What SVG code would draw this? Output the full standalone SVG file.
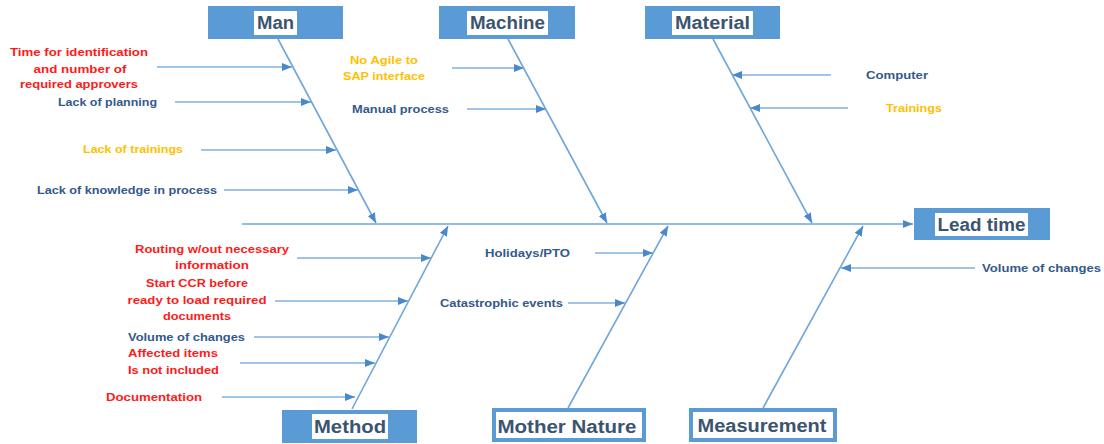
<svg xmlns="http://www.w3.org/2000/svg" width="1104" height="444" viewBox="0 0 1104 444">
<style>
.bone{stroke:#6FA6DA;stroke-width:1.6;fill:none}
.cause{stroke:#7FB0DE;stroke-width:1.4;fill:none}
.boxf{fill:#5B9BD5}
.boxo{fill:#fff;stroke:#5B9BD5;stroke-width:4}
.patch{fill:#fff}
.lbl{font-family:"Liberation Sans",Arial,sans-serif;font-weight:bold;font-size:18px;fill:#3B5470}
.t{font-family:"Liberation Sans",Arial,sans-serif;font-weight:bold;font-size:11.5px}
.blue{fill:#34598A}
.red{fill:#FF1A1A}
.gold{fill:#FFC000}
</style>
<defs>
<marker id="ah" viewBox="0 0 10 8" refX="10" refY="4" markerWidth="10" markerHeight="8" markerUnits="userSpaceOnUse" orient="auto">
<path d="M0,0 L10,4 L0,8 z" fill="#4A88CC"/>
</marker>
</defs>
<rect width="1104" height="444" fill="#fff"/>
<g id="connectors">
<line class="bone" x1="242" y1="224" x2="913" y2="224" marker-end="url(#ah)"/>
<line class="bone" x1="278" y1="39" x2="376" y2="223" marker-end="url(#ah)"/>
<line class="bone" x1="508" y1="39" x2="607" y2="223" marker-end="url(#ah)"/>
<line class="bone" x1="713" y1="39" x2="812" y2="223" marker-end="url(#ah)"/>
<line class="bone" x1="352" y1="409" x2="448" y2="226" marker-end="url(#ah)"/>
<line class="bone" x1="568" y1="408" x2="668" y2="226" marker-end="url(#ah)"/>
<line class="bone" x1="763" y1="408" x2="863" y2="226" marker-end="url(#ah)"/>
<line class="cause" x1="157" y1="67" x2="292" y2="67" marker-end="url(#ah)"/>
<line class="cause" x1="175" y1="102" x2="311" y2="102" marker-end="url(#ah)"/>
<line class="cause" x1="201" y1="150" x2="336" y2="150" marker-end="url(#ah)"/>
<line class="cause" x1="224" y1="190" x2="358" y2="190" marker-end="url(#ah)"/>
<line class="cause" x1="452" y1="68" x2="524" y2="68" marker-end="url(#ah)"/>
<line class="cause" x1="467" y1="109" x2="546" y2="109" marker-end="url(#ah)"/>
<line class="cause" x1="831" y1="75" x2="732" y2="75" marker-end="url(#ah)"/>
<line class="cause" x1="848" y1="108" x2="750" y2="108" marker-end="url(#ah)"/>
<line class="cause" x1="297" y1="258" x2="431" y2="258" marker-end="url(#ah)"/>
<line class="cause" x1="275" y1="301" x2="408" y2="301" marker-end="url(#ah)"/>
<line class="cause" x1="254" y1="337" x2="389" y2="337" marker-end="url(#ah)"/>
<line class="cause" x1="240" y1="363" x2="375" y2="363" marker-end="url(#ah)"/>
<line class="cause" x1="222" y1="397" x2="355" y2="397" marker-end="url(#ah)"/>
<line class="cause" x1="595" y1="253" x2="653" y2="253" marker-end="url(#ah)"/>
<line class="cause" x1="568" y1="303" x2="625" y2="303" marker-end="url(#ah)"/>
<line class="cause" x1="975" y1="268" x2="841" y2="268" marker-end="url(#ah)"/>
</g>
<g id="man">
<rect class="boxf" x="208" y="6" width="135" height="33"/>
<rect class="patch" x="254" y="11" width="43" height="24"/>
<text class="lbl" x="275.5" y="29" text-anchor="middle" textLength="37" lengthAdjust="spacingAndGlyphs">Man</text>
</g>
<g id="machine">
<rect class="boxf" x="439" y="6" width="136" height="33"/>
<rect class="patch" x="467" y="11" width="81" height="24"/>
<text class="lbl" x="507.5" y="29" text-anchor="middle" textLength="75" lengthAdjust="spacingAndGlyphs">Machine</text>
</g>
<g id="material">
<rect class="boxf" x="645" y="6" width="135" height="33"/>
<rect class="patch" x="672" y="11" width="81" height="24"/>
<text class="lbl" x="712.5" y="29" text-anchor="middle" textLength="75" lengthAdjust="spacingAndGlyphs">Material</text>
</g>
<g id="lead-time">
<rect class="boxf" x="914" y="208" width="136" height="32"/>
<rect class="patch" x="935" y="213" width="93" height="23"/>
<text class="lbl" x="981.5" y="231" text-anchor="middle" textLength="88" lengthAdjust="spacingAndGlyphs" font-size="19">Lead time</text>
</g>
<g id="method">
<rect class="boxf" x="282" y="410" width="135" height="33"/>
<rect class="patch" x="312" y="414" width="76" height="25"/>
<text class="lbl" x="350" y="433" text-anchor="middle" textLength="72" lengthAdjust="spacingAndGlyphs" font-size="20">Method</text>
</g>
<g id="mother-nature">
<rect class="boxo" x="494" y="410" width="150" height="30"/>
<text class="lbl" x="567" y="433" text-anchor="middle" textLength="139" lengthAdjust="spacingAndGlyphs" font-size="20">Mother Nature</text>
</g>
<g id="measurement">
<rect class="boxo" x="691" y="410" width="144" height="30"/>
<text class="lbl" x="762" y="432" text-anchor="middle" textLength="129" lengthAdjust="spacingAndGlyphs" font-size="20">Measurement</text>
</g>
<g id="man-causes">
<text class="t red" x="79" y="56" text-anchor="middle" textLength="138" lengthAdjust="spacingAndGlyphs">Time for identification</text>
<text class="t red" x="80" y="72.5" text-anchor="middle" textLength="93" lengthAdjust="spacingAndGlyphs">and number of</text>
<text class="t red" x="79" y="88" text-anchor="middle" textLength="118" lengthAdjust="spacingAndGlyphs">required approvers</text>
<text class="t blue" x="58" y="106" textLength="99" lengthAdjust="spacingAndGlyphs">Lack of planning</text>
<text class="t gold" x="83" y="153" textLength="100" lengthAdjust="spacingAndGlyphs">Lack of trainings</text>
<text class="t blue" x="37" y="194" textLength="180" lengthAdjust="spacingAndGlyphs">Lack of knowledge in process</text>
</g>
<g id="machine-causes">
<text class="t gold" x="384" y="64" text-anchor="middle" textLength="68" lengthAdjust="spacingAndGlyphs">No Agile to</text>
<text class="t gold" x="384" y="80" text-anchor="middle" textLength="82" lengthAdjust="spacingAndGlyphs">SAP interface</text>
<text class="t blue" x="352" y="113" textLength="97" lengthAdjust="spacingAndGlyphs">Manual process</text>
</g>
<g id="material-causes">
<text class="t blue" x="866" y="79" textLength="62" lengthAdjust="spacingAndGlyphs">Computer</text>
<text class="t gold" x="886" y="112" textLength="56" lengthAdjust="spacingAndGlyphs">Trainings</text>
</g>
<g id="method-causes">
<text class="t red" x="212" y="253" text-anchor="middle" textLength="154" lengthAdjust="spacingAndGlyphs">Routing w/out necessary</text>
<text class="t red" x="212" y="269" text-anchor="middle" textLength="74" lengthAdjust="spacingAndGlyphs">information</text>
<text class="t red" x="197" y="287" text-anchor="middle" textLength="102" lengthAdjust="spacingAndGlyphs">Start CCR before</text>
<text class="t red" x="197" y="304" text-anchor="middle" textLength="139" lengthAdjust="spacingAndGlyphs">ready to load required</text>
<text class="t red" x="197" y="320" text-anchor="middle" textLength="68" lengthAdjust="spacingAndGlyphs">documents</text>
<text class="t blue" x="128" y="341" textLength="117" lengthAdjust="spacingAndGlyphs">Volume of changes</text>
<text class="t red" x="128" y="357" textLength="90" lengthAdjust="spacingAndGlyphs">Affected items</text>
<text class="t red" x="128" y="374" textLength="91" lengthAdjust="spacingAndGlyphs">Is not included</text>
<text class="t red" x="106" y="401" textLength="96" lengthAdjust="spacingAndGlyphs">Documentation</text>
</g>
<g id="mother-nature-causes">
<text class="t blue" x="485" y="257" textLength="85" lengthAdjust="spacingAndGlyphs">Holidays/PTO</text>
<text class="t blue" x="440" y="307" textLength="123" lengthAdjust="spacingAndGlyphs">Catastrophic events</text>
</g>
<g id="measurement-causes">
<text class="t blue" x="982" y="272" textLength="119" lengthAdjust="spacingAndGlyphs">Volume of changes</text>
</g>
</svg>
